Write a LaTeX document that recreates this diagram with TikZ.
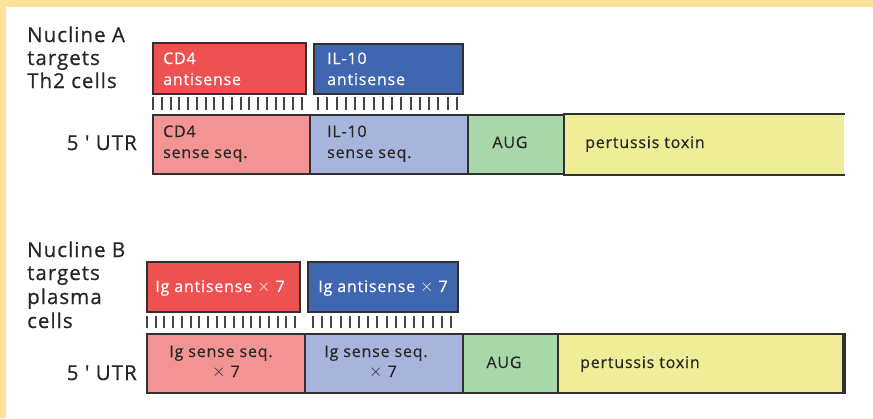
\documentclass[tikz,border=0pt]{standalone}
\usepackage{fontspec}
\setmainfont{Open Sans}
\newfontfamily\lblfont[LetterSpace=5,FakeBold=0.5]{Open Sans}
\newfontfamily\boxfont[LetterSpace=5,FakeBold=0.4]{Open Sans}
\newcommand{\tms}{\raisebox{0.5pt}{\fontsize{19}{21}\selectfont$\times$}}
\definecolor{band}{HTML}{FDE29B}
\definecolor{redA}{HTML}{EE5152}
\definecolor{blueA}{HTML}{3F66AF}
\definecolor{redS}{HTML}{F39494}
\definecolor{blueS}{HTML}{A7B4DC}
\definecolor{greenS}{HTML}{A8D8A9}
\definecolor{yellowS}{HTML}{F0ED99}
\definecolor{bord}{HTML}{303030}
\definecolor{txtc}{HTML}{262626}
\tikzset{
  seg/.style={draw=bord, line width=2pt, inner sep=0pt, anchor=north west},
  bigtxt/.style={inner sep=0pt, text=txtc, font=\lblfont\fontsize{20.5}{24}\selectfont},
  boxtxt/.style={inner sep=0pt, text=txtc, font=\boxfont\fontsize{16}{21}\selectfont},
  wtxt/.style={boxtxt, text=white},
  tickmark/.style={draw=bord!90, line width=2pt},
}
\begin{document}
\begin{tikzpicture}[x=1pt,y=-1pt]
\useasboundingbox (0,0) rectangle (873,418);
\fill[white] (0,0) rectangle (873,418);
\fill[band] (0,0) rectangle (873,7);
\fill[band] (0,0) rectangle (6,418);

% ---------- Nucline A ----------
\node[bigtxt, anchor=base west] (na1) at (27,42) {Nucline A};
\node[bigtxt, anchor=base west] (na2) at (27,65) {targets};
\node[bigtxt, anchor=base west] (na3) at (27,88) {Th2 cells};
\node[bigtxt, anchor=base east] (utrA) at (137,150) {5 \textquotesingle\ UTR};

\node[seg, fill=redA, minimum width=153pt, minimum height=51pt] (cdAnti) at (152,42) {};
\node[seg, fill=blueA, minimum width=149pt, minimum height=50pt] (ilAnti) at (313,43) {};
\node[wtxt, anchor=base west] (cdAntiT1) at (163,64) {CD4};
\node[wtxt, anchor=base west] (cdAntiT2) at (163,85) {antisense};
\node[wtxt, anchor=base west] (ilAntiT1) at (327,64) {IL-10};
\node[wtxt, anchor=base west] (ilAntiT2) at (327,85) {antisense};

\foreach \i in {0,...,17} \draw[tickmark] ({153+\i*(302-153)/17},97) -- ++(0,13);
\foreach \i in {0,...,15} \draw[tickmark] ({318+\i*(457-318)/15},97) -- ++(0,13);

\node[seg, draw=none, fill=yellowS, minimum width=280pt, minimum height=59pt] (toxA) at (563,114) {};
\draw[draw=bord, line width=2pt] (toxA.north west) -- (toxA.north east);
\draw[draw=bord, line width=2pt] (toxA.south west) -- (toxA.south east);
\node[seg, fill=redS, minimum width=157pt, minimum height=59pt] (cdSense) at (152,114) {};
\node[seg, fill=blueS, minimum width=158pt, minimum height=59pt] (ilSense) at (309,114) {};
\node[seg, fill=greenS, minimum width=96pt, minimum height=59pt] (augA) at (467,114) {};
\node[boxtxt, anchor=base west] (cdSenseT1) at (163,137) {CD4};
\node[boxtxt, anchor=base west] (cdSenseT2) at (163,158) {sense seq.};
\node[boxtxt, anchor=base west] (ilSenseT1) at (327,137) {IL-10};
\node[boxtxt, anchor=base west] (ilSenseT2) at (327,158) {sense seq.};
\node[boxtxt, anchor=base] (augAT) at (510,148) {AUG};
\node[boxtxt, anchor=base west] (toxAT) at (585,148) {pertussis toxin};

% ---------- Nucline B ----------
\node[bigtxt, anchor=base west] (nb1) at (27,257) {Nucline B};
\node[bigtxt, anchor=base west] (nb2) at (27,280) {targets};
\node[bigtxt, anchor=base west] (nb3) at (27,304) {plasma};
\node[bigtxt, anchor=base west] (nb4) at (27,328) {cells};
\node[bigtxt, anchor=base east] (utrB) at (137,380) {5 \textquotesingle\ UTR};

\node[seg, fill=redA, minimum width=153pt, minimum height=50pt] (igAnti1) at (146,261) {};
\node[seg, fill=blueA, minimum width=150pt, minimum height=50pt] (igAnti2) at (307,261) {};
\node[wtxt, anchor=base] (igAnti1T) at (220,292) {Ig antisense \tms\ 7};
\node[wtxt, anchor=base] (igAnti2T) at (383,292) {Ig antisense \tms\ 7};

\foreach \i in {0,...,17} \draw[tickmark] ({147+\i*(295-147)/17},316) -- ++(0,12);
\foreach \i in {0,...,15} \draw[tickmark] ({313+\i*(451-313)/15},316) -- ++(0,12);

\node[seg, fill=yellowS, minimum width=286pt, minimum height=59pt] (toxB) at (557,333) {};
\draw[draw=bord, line width=3.5pt] ([xshift=-1pt]toxB.north east) -- ([xshift=-1pt]toxB.south east);
\node[seg, fill=redS, minimum width=158pt, minimum height=59pt] (igSense1) at (146,333) {};
\node[seg, fill=blueS, minimum width=158pt, minimum height=59pt] (igSense2) at (304,333) {};
\node[seg, fill=greenS, minimum width=95pt, minimum height=59pt] (augB) at (462,333) {};
\node[boxtxt, anchor=base] (igSense1T1) at (221,357) {Ig sense seq.};
\node[boxtxt, anchor=base] (igSense1T2) at (226,377) {\tms\ 7};
\node[boxtxt, anchor=base] (igSense2T1) at (376,357) {Ig sense seq.};
\node[boxtxt, anchor=base] (igSense2T2) at (383,377) {\tms\ 7};
\node[boxtxt, anchor=base] (augBT) at (504,368) {AUG};
\node[boxtxt, anchor=base west] (toxBT) at (580,368) {pertussis toxin};
\end{tikzpicture}
\end{document}
